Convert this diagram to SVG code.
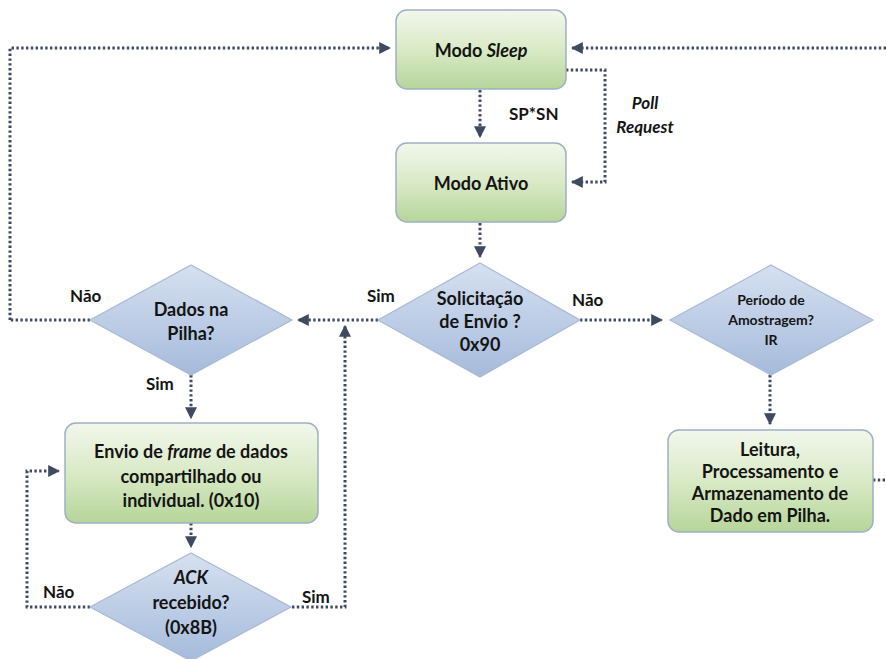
<svg xmlns="http://www.w3.org/2000/svg" width="886" height="659" viewBox="0 0 886 659">
  <defs>
    <linearGradient id="gGreen" x1="0" y1="0" x2="0" y2="1">
      <stop offset="0" stop-color="#f2f7ec"/>
      <stop offset="0.5" stop-color="#d9eac6"/>
      <stop offset="1" stop-color="#b6d59a"/>
    </linearGradient>
    <linearGradient id="gBlue" x1="0" y1="0" x2="0" y2="1">
      <stop offset="0" stop-color="#d6e0f0"/>
      <stop offset="1" stop-color="#a5bbdc"/>
    </linearGradient>
    <marker id="arr" viewBox="0 0 10 10" refX="9" refY="5" markerWidth="4" markerHeight="4" orient="auto" markerUnits="strokeWidth">
      <path d="M0,0 L10,5 L0,10 Z" fill="#3e4a60"/>
    </marker>
  </defs>
  <style>
    .box { fill: url(#gGreen); stroke: #9fb0c4; stroke-width: 1.5; }
    .dia { fill: url(#gBlue); stroke: #a9b9d2; stroke-width: 1.2; }
    .t { font-family: Lato, "Liberation Sans", sans-serif; font-weight: bold; font-size: 18px; fill: #141414; text-anchor: middle; }
    .s { font-size: 14px; }
    .lbl { font-family: Lato, "Liberation Sans", sans-serif; font-weight: bold; font-size: 17px; fill: #141414; }
    .c { fill: none; stroke: #3e4a60; stroke-width: 3; stroke-dasharray: 2.4 2.4; }
  </style>

  <rect width="886" height="659" fill="#ffffff"/>

  <!-- dotted flow lines -->
  <g id="connectors">
    <path class="c" d="M10,320 L10,48 L390,48" marker-end="url(#arr)"/>
    <path class="c" d="M886,48 L572,48" marker-end="url(#arr)"/>
    <path class="c" d="M480,90 L480,137" marker-end="url(#arr)"/>
    <path class="c" d="M566,70 L605,70 L605,182 L572,182" marker-end="url(#arr)"/>
    <path class="c" d="M480,223 L480,257" marker-end="url(#arr)"/>
    <path class="c" d="M378,320 L298,320" marker-end="url(#arr)"/>
    <path class="c" d="M90,320 L10,320"/>
    <path class="c" d="M580,320 L662,320" marker-end="url(#arr)"/>
    <path class="c" d="M770,375 L770,424" marker-end="url(#arr)"/>
    <path class="c" d="M873,480 L886,480"/>
    <path class="c" d="M191,375 L191,418" marker-end="url(#arr)"/>
    <path class="c" d="M191,523 L191,547" marker-end="url(#arr)"/>
    <path class="c" d="M90,607 L27,607 L27,471 L59,471" marker-end="url(#arr)"/>
    <path class="c" d="M292,607 L345,607 L345,326" marker-end="url(#arr)"/>
  </g>

  <!-- branch labels -->
  <g id="labels">
    <text class="lbl" x="509" y="120">SP*SN</text>
    <text class="lbl" x="645" y="109" text-anchor="middle" font-style="italic">Poll</text>
    <text class="lbl" x="645" y="133" text-anchor="middle" font-style="italic">Request</text>
    <text class="lbl" x="70" y="302">Não</text>
    <text class="lbl" x="367" y="302">Sim</text>
    <text class="lbl" x="572" y="306">Não</text>
    <text class="lbl" x="146" y="390">Sim</text>
    <text class="lbl" x="43" y="598">Não</text>
    <text class="lbl" x="302" y="603">Sim</text>
  </g>

  <g id="sleep">
    <rect class="box" x="396" y="10" width="170" height="79" rx="11"/>
    <text class="t" x="481" y="57">Modo <tspan font-style="italic">Sleep</tspan></text>
  </g>

  <g id="ativo">
    <rect class="box" x="396" y="143" width="170" height="79" rx="11"/>
    <text class="t" x="481" y="190">Modo Ativo</text>
  </g>

  <g id="solicitacao">
    <polygon class="dia" points="480,263 580,320 480,377 378,320"/>
    <text class="t" x="480" y="305">Solicitação</text>
    <text class="t" x="480" y="328">de Envio ?</text>
    <text class="t" x="480" y="351">0x90</text>
  </g>

  <g id="dados-pilha">
    <polygon class="dia" points="191,265 292,320 191,375 90,320"/>
    <text class="t" x="191" y="316">Dados na</text>
    <text class="t" x="191" y="340">Pilha?</text>
  </g>

  <g id="periodo">
    <polygon class="dia" points="771,265 873,320 771,375 670,320"/>
    <text class="t s" x="771" y="305">Período de</text>
    <text class="t s" x="771" y="325">Amostragem?</text>
    <text class="t s" x="771" y="345">IR</text>
  </g>

  <g id="leitura">
    <rect class="box" x="668" y="430" width="205" height="102" rx="11"/>
    <text class="t" x="770" y="456">Leitura,</text>
    <text class="t" x="770" y="478">Processamento e</text>
    <text class="t" x="770" y="500">Armazenamento de</text>
    <text class="t" x="770" y="522">Dado em Pilha.</text>
  </g>

  <g id="envio">
    <rect class="box" x="65" y="423" width="253" height="100" rx="11"/>
    <text class="t" x="191" y="458">Envio de <tspan font-style="italic">frame</tspan> de dados</text>
    <text class="t" x="191" y="483">compartilhado ou</text>
    <text class="t" x="191" y="507">individual. (0x10)</text>
  </g>

  <g id="ack">
    <polygon class="dia" points="191,553 291,607 191,661 90,607"/>
    <text class="t" x="191" y="584" font-style="italic">ACK</text>
    <text class="t" x="191" y="609">recebido?</text>
    <text class="t" x="191" y="634">(0x8B)</text>
  </g>
</svg>
